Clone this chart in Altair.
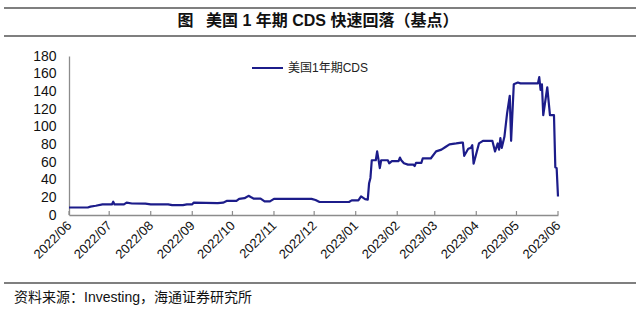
import altair as alt
import pandas as pd

# ---- data ----
dates = [
    "2022-06-01", "2022-06-15", "2022-06-17", "2022-06-21", "2022-06-26",
    "2022-07-03", "2022-07-04", "2022-07-05", "2022-07-12", "2022-07-14", "2022-07-18", "2022-07-28",
    "2022-08-01", "2022-08-14", "2022-08-17", "2022-08-25", "2022-08-28",
    "2022-09-01", "2022-09-02", "2022-09-20", "2022-09-24", "2022-09-27",
    "2022-10-04", "2022-10-06", "2022-10-10", "2022-10-13", "2022-10-15", "2022-10-17", "2022-10-22",
    "2022-10-25", "2022-10-29",
    "2022-11-01", "2022-11-29",
    "2022-12-02", "2022-12-05", "2022-12-27", "2022-12-29",
    "2023-01-03", "2023-01-05", "2023-01-08", "2023-01-10", "2023-01-11", "2023-01-12", "2023-01-13",
    "2023-01-16", "2023-01-17", "2023-01-18", "2023-01-19", "2023-01-20", "2023-01-25", "2023-01-26",
    "2023-01-28",
    "2023-02-02", "2023-02-03", "2023-02-04", "2023-02-06", "2023-02-09", "2023-02-13", "2023-02-14",
    "2023-02-15", "2023-02-19", "2023-02-20", "2023-02-26",
    "2023-03-02", "2023-03-06", "2023-03-09", "2023-03-12", "2023-03-17", "2023-03-21", "2023-03-22",
    "2023-03-23", "2023-03-26", "2023-03-28", "2023-03-29", "2023-03-30",
    "2023-04-03", "2023-04-06", "2023-04-13", "2023-04-15", "2023-04-17", "2023-04-18", "2023-04-19",
    "2023-04-20", "2023-04-22", "2023-04-24", "2023-04-26", "2023-04-27", "2023-04-29",
    "2023-05-02", "2023-05-04", "2023-05-17", "2023-05-18", "2023-05-19", "2023-05-20", "2023-05-21",
    "2023-05-24", "2023-05-26", "2023-05-29", "2023-05-30", "2023-05-31", "2023-06-01",
]
cds = [
    8.5, 8.5, 9.5, 10.5, 12,
    12, 15, 12, 12, 14, 13, 12.8,
    12, 12, 11.2, 11.2, 12,
    12, 14, 13.5, 14, 16,
    16, 18.3, 19, 21.7, 20, 18.5, 18.5,
    15.4, 15.4,
    18.3, 18.3,
    17, 14.7, 14.7, 16.5,
    16.5, 21, 18, 17.5, 36, 42, 62,
    62, 72, 63, 53, 62, 62, 58.5,
    61,
    61, 65, 62, 58.5, 57, 57, 55.5,
    59, 59, 64, 64,
    72, 74, 77, 80, 81, 82, 82,
    67, 75, 76, 79, 58,
    81, 84, 84, 72, 81, 74, 87,
    76, 88.5, 115, 135, 84, 148,
    150, 149, 149, 156, 141.6, 148, 113,
    144.6, 113, 113, 54, 53, 21,
]
tick_dates = [
    "2022-06-01", "2022-07-01", "2022-08-01", "2022-09-01", "2022-10-01", "2022-11-01",
    "2022-12-01", "2023-01-01", "2023-02-01", "2023-03-01", "2023-04-01", "2023-05-01", "2023-06-01",
]
y_ticks = [0, 20, 40, 60, 80, 100, 120, 140, 160, 180]
series_name = "美国1年期CDS"
title_text = "图\u2002 美国 1 年期 CDS 快速回落（基点）"
source_text = "资料来源：Investing，海通证券研究所"

LINE = "#1c1c8a"
AXIS = "#8c8c8c"
FONT = "Liberation Sans, Noto Sans CJK SC"
W, H = 489, 159

df = pd.DataFrame({"date": dates, "cds": cds})
ticks_df = pd.DataFrame({"t": tick_dates})

x_scale = alt.Scale(
    type="utc",
    domain=[alt.DateTime(year=2022, month=6, date=1, utc=True),
            alt.DateTime(year=2023, month=6, date=1, utc=True)],
)
tick_vals = [alt.DateTime(year=int(d[:4]), month=int(d[5:7]), date=1, utc=True) for d in tick_dates]

line = alt.Chart(df).mark_line(color=LINE, strokeWidth=2.2, strokeJoin="round").encode(
    x=alt.X("date:T", scale=x_scale,
            axis=alt.Axis(title=None, values=tick_vals, labelExpr="utcFormat(datum.value, '%Y/%m')",
                          labelAngle=-45, labelAlign="right", labelBaseline="middle",
                          labelPadding=8, tickSize=0, domainColor=AXIS, domainWidth=1.3,
                          labelFont=FONT, labelFontSize=13, labelColor="#111", grid=False,
                          labelOverlap=False, labelFlush=False)),
    y=alt.Y("cds:Q", scale=alt.Scale(domain=[0, 180], nice=False),
            axis=alt.Axis(title=None, values=y_ticks, ticks=False, labelPadding=13,
                          domainColor=AXIS, domainWidth=1.3, labelFont=FONT, labelFontSize=14,
                          labelColor="#111", grid=False)),
)

tick_marks = alt.Chart(ticks_df).mark_rule(color=AXIS, strokeWidth=1.2).encode(
    x=alt.X("t:T", scale=x_scale),
    y=alt.value(H),
    y2=alt.value(H - 4),
)

legend_df = pd.DataFrame({"name": [series_name]})
legend_line = alt.Chart(legend_df).mark_rule(color=LINE, strokeWidth=2).encode(
    x=alt.value(183), x2=alt.value(214), y=alt.value(12)
)
legend_text = alt.Chart(legend_df).mark_text(
    align="left", baseline="middle", font=FONT, fontSize=12, color="#222"
).encode(text="name:N", x=alt.value(219), y=alt.value(12))

title = alt.Chart(pd.DataFrame({"t": [title_text]})).mark_text(
    align="center", baseline="middle", font=FONT, fontSize=16, fontWeight="bold", color="#111"
).encode(text="t:N", x=alt.value(318 - 69), y=alt.value(21 - 56))

source = alt.Chart(pd.DataFrame({"t": [source_text]})).mark_text(
    align="left", baseline="middle", font=FONT, fontSize=14, color="#111"
).encode(text="t:N", x=alt.value(14 - 69), y=alt.value(298 - 56))

rules_df = pd.DataFrame({"k": ["top", "mid", "bottom"]})
rule_top = alt.Chart(rules_df).transform_filter("datum.k == 'top'").mark_rule(
    color="#7f7f7f", strokeWidth=2).encode(x=alt.value(4 - 69), x2=alt.value(636 - 69), y=alt.value(8 - 56))
rule_mid = alt.Chart(rules_df).transform_filter("datum.k == 'mid'").mark_rule(
    color="#7f7f7f", strokeWidth=2).encode(x=alt.value(4 - 69), x2=alt.value(636 - 69), y=alt.value(36 - 56))
rule_bot = alt.Chart(rules_df).transform_filter("datum.k == 'bottom'").mark_rule(
    color="#7f7f7f", strokeWidth=2).encode(x=alt.value(4 - 69), x2=alt.value(636 - 69), y=alt.value(283 - 56))

chart = alt.layer(
    line, tick_marks, legend_line, legend_text, title, source, rule_top, rule_mid, rule_bot
).properties(
    width=W, height=H,
    autosize=alt.AutoSizeParams(type="none"),
    padding={"left": 69, "top": 56, "right": 640 - 69 - W, "bottom": 314 - 56 - H},
    background="white",
).configure_view(stroke=None)

chart.save("out.html", embed_options={"renderer": "svg", "actions": False})
